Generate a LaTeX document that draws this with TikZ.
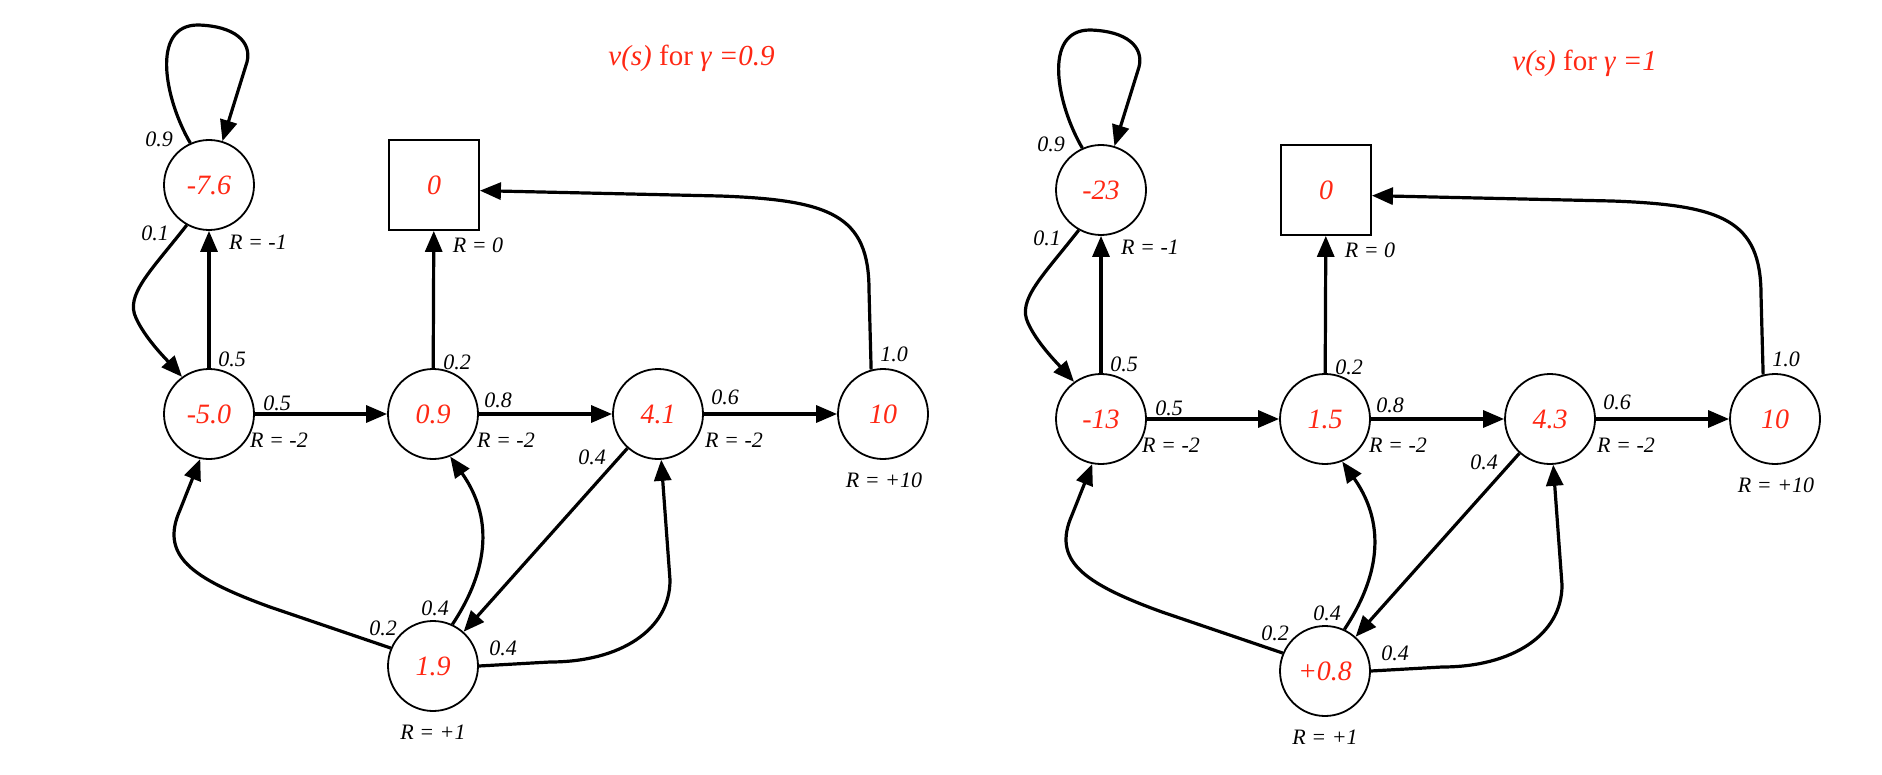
\documentclass[tikz,border=0pt]{standalone}
\usepackage{fontspec}
\setmainfont{Liberation Serif}
\usetikzlibrary{arrows.meta}
\definecolor{valred}{RGB}{255,40,20}
\tikzset{
  st/.style={circle,draw,line width=0.9pt,minimum size=45pt,inner sep=0pt,font=\fontsize{14}{16}\selectfont\itshape,text=valred},
  term/.style={rectangle,draw,line width=0.9pt,minimum size=45pt,inner sep=0pt,font=\fontsize{14}{16}\selectfont\itshape,text=valred},
  edge/.style={line width=1.6pt,-{Triangle[length=10.5pt,width=8.5pt]}},
  lbl/.style={font=\fontsize{11}{13}\selectfont\itshape,inner sep=0pt},
  ttl/.style={font=\fontsize{14.5}{16}\selectfont,text=valred,inner sep=0pt,anchor=west},
}
\newcommand\mrpgraph[9]{%
\begin{scope}[shift={(#2,#3)}]
  \node[st] (#1A) at (209,185) {#4};
  \node[term] (#1T) at (434,185) {0};
  \node[st] (#1B) at (209,414) {#5};
  \node[st] (#1C) at (433,414) {#6};
  \node[st] (#1D) at (658,414) {#7};
  \node[st] (#1E) at (883,414) {#8};
  \node[st] (#1F) at (433,666) {#9};
  \node[lbl] (#1l09) at (159,139) {0.9};
  \node[lbl] (#1l01) at (155,233) {0.1};
  \node[lbl] (#1rA) at (258,242) {R = -1};
  \node[lbl] (#1rT) at (478,245) {R = 0};
  \node[lbl] (#1lBA) at (232,359) {0.5};
  \node[lbl] (#1lBC) at (277,403) {0.5};
  \node[lbl] (#1rB) at (279,440) {R = -2};
  \node[lbl] (#1lCT) at (457,362) {0.2};
  \node[lbl] (#1lCD) at (498,400) {0.8};
  \node[lbl] (#1rC) at (506,440) {R = -2};
  \node[lbl] (#1lDE) at (725,397) {0.6};
  \node[lbl] (#1rD) at (734,440) {R = -2};
  \node[lbl] (#1lDF) at (592,457) {0.4};
  \node[lbl] (#1lET) at (894,354) {1.0};
  \node[lbl] (#1rE) at (884,480) {R = +10};
  \node[lbl] (#1lFC) at (435,608) {0.4};
  \node[lbl] (#1lFB) at (383,628) {0.2};
  \node[lbl] (#1lFD) at (503,648) {0.4};
  \node[lbl] (#1rF) at (433,732) {R = +1};
  \draw[edge] (#1A.114) .. controls (165,100) and (150,25) .. (198,25) .. controls (235,26) and (252,42) .. (247,62) -- (#1A.73);
  \draw[edge] (#1A.241) .. controls (150,272) and (125,295) .. (136,318) .. controls (145,338) and (165,358) .. (#1B.126);
  \draw[edge] (#1B) -- (#1A);
  \draw[edge] (#1B) -- (#1C);
  \draw[edge] (#1C) -- (#1T);
  \draw[edge] (#1C) -- (#1D);
  \draw[edge] (#1D) -- (#1E);
  \draw[edge] (#1E.105) -- (869,290) .. controls (869,215) and (830,200) .. (720,196) -- (#1T.-7);
  \draw[edge] (#1D) -- (#1F);
  \draw[edge] (#1F.157) -- (270,607) .. controls (190,578) and (160,555) .. (180,510) -- (#1B.259);
  \draw[edge] (#1F.65) .. controls (495,560) and (488,510) .. (#1C.292);
  \draw[edge] (#1F.0) -- (550,662) .. controls (620,662) and (670,630) .. (670,580) -- (#1D.274);
\end{scope}}
\begin{document}
\begin{tikzpicture}[x=0.5pt,y=-0.5pt]
  \fill[white] (0,0) rectangle (1882,775);
  \useasboundingbox (0,0) rectangle (1882,775);
  \node[ttl] (t1) at (608,58) {\textit{v(s)} for \textit{γ =0.9}};
  \node[ttl] (t2) at (1512,63) {\textit{v(s)} for \textit{γ =1}};
  \mrpgraph{p}{0}{0}{-7.6}{-5.0}{0.9}{4.1}{10}{1.9}
  \mrpgraph{q}{892}{5}{-23}{-13}{1.5}{4.3}{10}{+0.8}
\end{tikzpicture}
\end{document}
